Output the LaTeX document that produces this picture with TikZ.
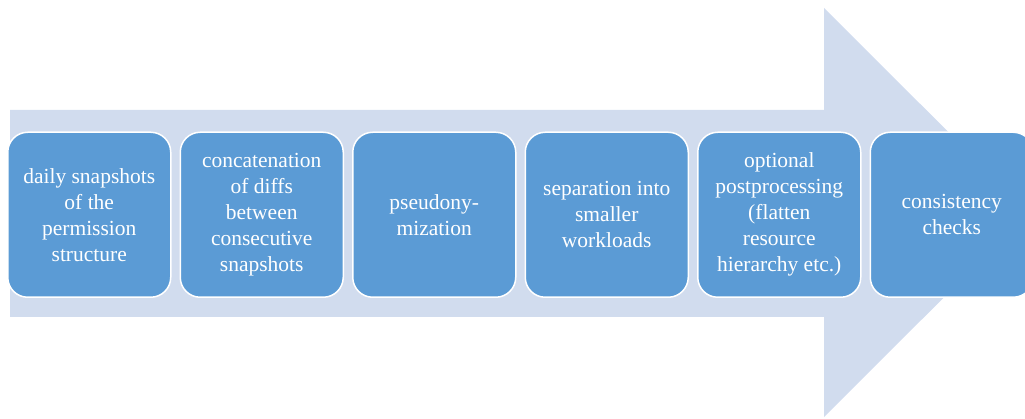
\documentclass[tikz,border=0pt]{standalone}
\usepackage{fontspec}
\setmainfont{Liberation Serif}
\definecolor{arrowfill}{RGB}{209,220,238}
\definecolor{boxfill}{RGB}{91,155,213}
\begin{document}
\begin{tikzpicture}[x=1pt,y=-1pt,
  stepbox/.style={draw=white,line width=1.5pt,fill=boxfill,rounded corners=20pt,
    minimum width=163pt,minimum height=165pt,anchor=north west,
    text=white,align=center,font=\fontsize{21.5}{26}\selectfont,inner sep=0pt}]
\useasboundingbox (0,0) rectangle (1025,419);
\clip (0,0) rectangle (1025,419);
\fill[arrowfill] (10,110) -- (824,110) -- (824,8) -- (1029,212.5) -- (824,417) -- (824,317) -- (10,317) -- cycle;
\node[stepbox] (s1) at (7,131.5) {daily snapshots\\of the\\permission\\structure};
\node[stepbox] (s2) at (179.5,131.5) {concatenation\\of diffs\\between\\consecutive\\snapshots};
\node[stepbox] (s3) at (352,131.5) {pseudony-\\mization};
\node[stepbox] (s4) at (524.5,131.5) {separation into\\smaller\\workloads};
\node[stepbox] (s5) at (697,131.5) {optional\\postprocessing\\(flatten\\resource\\hierarchy etc.)};
\node[stepbox] (s6) at (869.5,131.5) {consistency\\checks};
\end{tikzpicture}
\end{document}
